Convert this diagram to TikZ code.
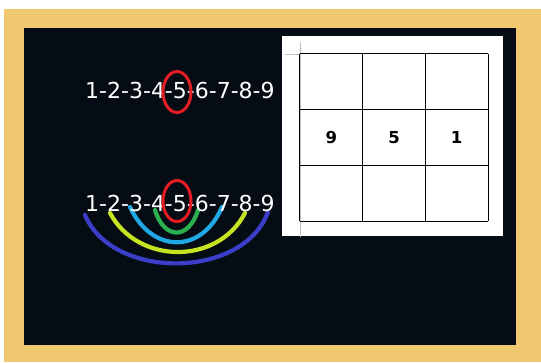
\documentclass[tikz,border=0pt]{standalone}
\usepackage{fontspec}
\setmainfont{DejaVu Sans}
\usetikzlibrary{shapes.geometric,positioning}
\definecolor{woodtan}{RGB}{240,200,112}
\definecolor{boardblack}{RGB}{6,12,20}
\definecolor{ringred}{RGB}{228,28,36}
\definecolor{arcblue}{RGB}{58,62,200}
\definecolor{arclime}{RGB}{198,228,34}
\definecolor{arccyan}{RGB}{32,168,228}
\definecolor{arcgreen}{RGB}{42,176,78}

\begin{document}
\begin{tikzpicture}[
    x=1pt, y=-1pt,
    seq/.style={inner sep=0pt, text=white, font=\fontsize{22}{24}\selectfont},
    ring/.style={ellipse, draw=ringred, line width=3pt, minimum width=28pt, minimum height=41pt, inner sep=0pt},
    pair/.style={line width=4.2pt, line cap=round},
    cell/.style={rectangle, minimum width=62.7pt, minimum height=55.7pt, inner sep=0pt, font=\bfseries\fontsize{16.5}{18}\selectfont},
    rule/.style={draw=black, line width=1.2pt}
  ]
    \useasboundingbox (0,0) rectangle (541,362);
    \fill[woodtan] (4,9) rectangle (541,362);
    \fill[boardblack] (24,28) rectangle (516,345);

    \node[seq, anchor=base west] (seqtop) at (85,98) {1-2-3-4-5-6-7-8-9};
    \node[ring] (ringtop) at (177,92) {};

    \coordinate (p1) at (85,215);
    \coordinate (p9) at (268,212);
    \coordinate (p2) at (110,213);
    \coordinate (p8) at (245,213);
    \coordinate (p3) at (130,207);
    \coordinate (p7) at (222,207);
    \coordinate (p4) at (155,210);
    \coordinate (p6) at (198,210);
    \draw[pair, arcblue] (p1) .. controls (112,280) and (243,280) .. (p9);
    \draw[pair, arclime] (p2) .. controls (138,265) and (218,265) .. (p8);
    \draw[pair, arccyan] (p3) .. controls (152,254) and (202,254) .. (p7);
    \draw[pair, arcgreen] (p4) .. controls (164,240) and (189,240) .. (p6);
    \node[seq, anchor=base west] (seqbot) at (85,211) {1-2-3-4-5-6-7-8-9};
    \node[ring] (ringbot) at (177,201) {};

    \fill[white] (282,36) rectangle (503,236);
    \draw[black!25, line width=0.8pt] (300,42) -- (300,237);
    \draw[black!25, line width=0.8pt] (285,54) -- (300,54);
    \foreach \r in {1,2,3}
      \foreach \c in {1,2,3}
        \node[cell] (cell\r\c) at ({300+62.67*(\c-0.5)},{54+55.67*(\r-0.5)}) {};
    \foreach \c in {1,2,3} {
      \draw[rule] (cell1\c.north west) -- (cell1\c.north east);
      \draw[rule] (cell3\c.south west) -- (cell3\c.south east);
      \draw[rule] (cell\c1.north west) -- (cell\c1.south west);
      \draw[rule] (cell\c3.north east) -- (cell\c3.south east);
      \draw[rule] (cell1\c.south west) -- (cell1\c.south east);
      \draw[rule] (cell2\c.south west) -- (cell2\c.south east);
      \draw[rule] (cell\c1.north east) -- (cell\c1.south east);
      \draw[rule] (cell\c2.north east) -- (cell\c2.south east);
    }
    \node[cell] at (cell21) {9};
    \node[cell] at (cell22) {5};
    \node[cell] at (cell23) {1};
  \end{tikzpicture}
\end{document}
